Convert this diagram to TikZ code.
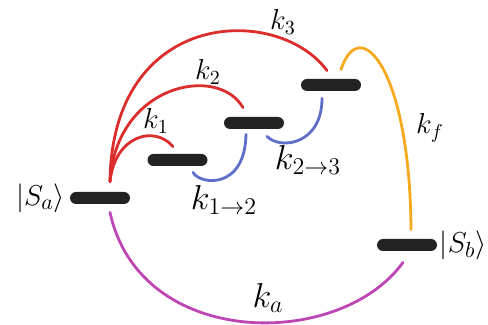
\documentclass[tikz,border=0pt]{standalone}
\usepackage{amsmath,amssymb}
\usepackage{tikz}
\usetikzlibrary{positioning,calc}
\usepackage{xcolor}
\definecolor{ratered}{RGB}{220,45,45}
\definecolor{rateblue}{RGB}{95,110,200}
\definecolor{rateorange}{RGB}{245,170,30}
\definecolor{ratemag}{RGB}{190,70,180}
\definecolor{bardark}{RGB}{35,35,35}

\begin{document}
\begin{tikzpicture}[
    x=0.5pt, y=-0.5pt,
    lvl/.style={fill=bardark, rounded corners=3pt, minimum width=30pt,
                minimum height=6pt, inner sep=0pt},
    rate/.style={line width=1.4pt, line cap=round},
    lbl/.style={inner sep=0pt, font=\Large},
    big/.style={inner sep=0pt, font=\LARGE},
    state/.style={inner sep=0pt, font=\fontsize{15.5}{18}\selectfont}
]
    \useasboundingbox (0,0) rectangle (488,325);
    % energy levels
    \node[lvl] (sa) at (100,198) {};
    \node[lvl] (l1) at (177.5,160) {};
    \node[lvl] (l2) at (254,123) {};
    \node[lvl] (l3) at (331,85) {};
    \node[lvl] (sb) at (407,245) {};
    \node[state, left=2pt of sa] (salbl) {$|S_a\rangle$};
    \node[state, right=1pt of sb] (sblbl) {$|S_b\rangle$};
    % red: from S_a up to each level
    \draw[rate, ratered] ([shift={(10,-10)}]sa.north) .. controls (115,135) and (155,125) .. ([shift={(-4.5,-7)}]l1.north);
    \draw[rate, ratered] ([shift={(10,-10)}]sa.north) .. controls (116,84) and (218,64) .. ([shift={(-11,-9)}]l2.north);
    \draw[rate, ratered] ([shift={(10,-10)}]sa.north) .. controls (112,8) and (278,4) .. ([shift={(-4,-8)}]l3.north);
    % blue: level to level
    \draw[rate, rateblue] ([shift={(15.5,6)}]l1.south) .. controls (200,185) and (245,190) .. ([shift={(-8,5)}]l2.south);
    \draw[rate, rateblue] ([shift={(13,7)}]l2.south) .. controls (280,150) and (322,145) .. ([shift={(-9,7)}]l3.south);
    % orange and magenta
    \draw[rate, rateorange] ([shift={(10,-9)}]l3.north) .. controls (360,12) and (410,70) .. ([shift={(4,-9)}]sb.north);
    \draw[rate, ratemag] ([shift={(10,8)}]sa.south) .. controls (140,350) and (340,350) .. ([shift={(-4,11)}]sb.south);
    % rate labels
    \node[lbl] (k1) at (156,121) {$k_1$};
    \node[lbl] (k2) at (208,72) {$k_2$};
    \node[lbl] (k3) at (283,22) {$k_3$};
    \node[lbl] (kf) at (430,128) {$k_f$};
    \node[big] (k12) at (224,200) {$k_{1\to 2}$};
    \node[big] (k23) at (308,160) {$k_{2\to 3}$};
    \node[big] (ka) at (268,298) {$k_a$};
\end{tikzpicture}
\end{document}
